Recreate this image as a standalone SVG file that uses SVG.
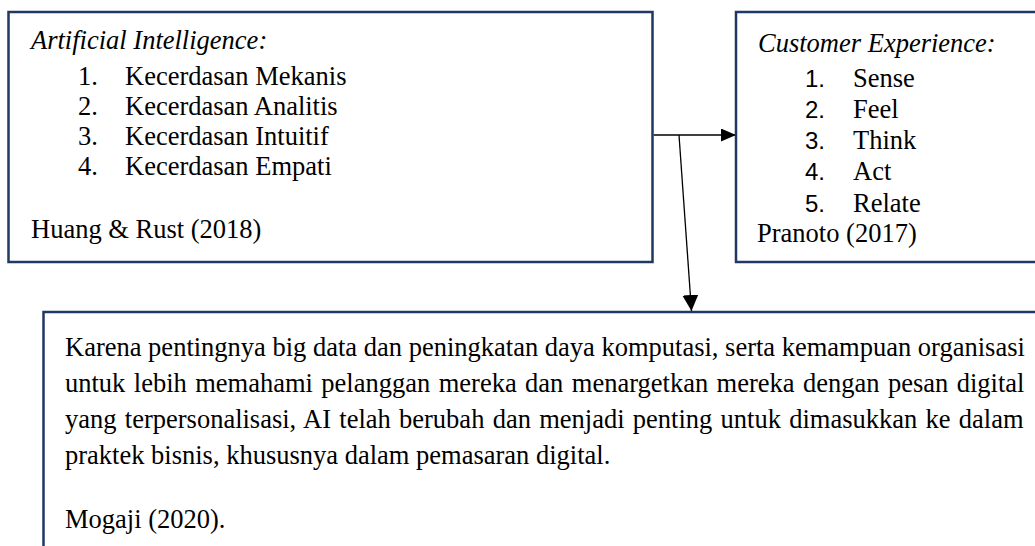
<svg xmlns="http://www.w3.org/2000/svg" width="1035" height="546" viewBox="0 0 1035 546">
<style>
.box{fill:#fff;stroke:#1f3864;stroke-width:2.5}
.t{font-family:"Liberation Serif","Times New Roman",serif;font-size:26.5px;fill:#000}
.it{font-style:italic}
.n{font-family:"Liberation Sans",Arial,sans-serif;font-size:24px;fill:#000}
</style>
<defs>
<marker id="ah-h" markerWidth="15" markerHeight="13" refX="15" refY="6.5" orient="auto" markerUnits="userSpaceOnUse" viewBox="0 0 15 13">
<path d="M0,0 L15,6.5 L0,13 z" fill="#000"/>
</marker>
<marker id="ah-d" markerWidth="16" markerHeight="16" refX="16" refY="8" orient="auto" markerUnits="userSpaceOnUse" viewBox="0 0 16 16">
<path d="M0,0 L16,8 L0,16 z" fill="#000"/>
</marker>
</defs>
<g id="node-ai">
<rect class="box" x="8.5" y="12" width="644" height="250"/>
<text class="t it" x="31" y="48.5">Artificial Intelligence:</text>
<text class="t" x="78" y="84.5">1.</text><text class="t" x="125" y="84.5">Kecerdasan Mekanis</text>
<text class="t" x="78" y="114.5">2.</text><text class="t" x="125" y="114.5">Kecerdasan Analitis</text>
<text class="t" x="78" y="144.5">3.</text><text class="t" x="125" y="144.5">Kecerdasan Intuitif</text>
<text class="t" x="78" y="175">4.</text><text class="t" x="125" y="175">Kecerdasan Empati</text>
<text class="t" x="31" y="238">Huang &amp; Rust (2018)</text>
</g>
<g id="node-cx">
<rect class="box" x="736" y="12" width="320" height="250"/>
<text class="t it" x="758" y="51.5">Customer Experience:</text>
<text class="n" x="805" y="87">1.</text><text class="t" x="853" y="87">Sense</text>
<text class="n" x="805" y="117.5">2.</text><text class="t" x="853" y="117.5">Feel</text>
<text class="n" x="805" y="149">3.</text><text class="t" x="853" y="149">Think</text>
<text class="n" x="805" y="180">4.</text><text class="t" x="853" y="180">Act</text>
<text class="n" x="805" y="211.5">5.</text><text class="t" x="853" y="211.5">Relate</text>
<text class="t" x="757" y="242">Pranoto (2017)</text>
</g>
<g id="node-mogaji">
<rect class="box" x="43.5" y="312" width="1010" height="260"/>
<text class="t" x="65" y="356">Karena pentingnya big data dan peningkatan daya komputasi, serta kemampuan organisasi</text>
<text class="t" x="65" y="392" word-spacing="1.8">untuk lebih memahami pelanggan mereka dan menargetkan mereka dengan pesan digital</text>
<text class="t" x="65" y="428" word-spacing="1.64">yang terpersonalisasi, AI telah berubah dan menjadi penting untuk dimasukkan ke dalam</text>
<text class="t" x="65" y="464">praktek bisnis, khususnya dalam pemasaran digital.</text>
<text class="t" x="65" y="528">Mogaji (2020).</text>
</g>
<g id="connectors">
<line x1="653.5" y1="135" x2="736" y2="135" stroke="#404040" stroke-width="2" marker-end="url(#ah-h)"/>
<line x1="679" y1="135" x2="691.5" y2="311" stroke="#000" stroke-width="1.3" marker-end="url(#ah-d)"/>
</g>
</svg>
